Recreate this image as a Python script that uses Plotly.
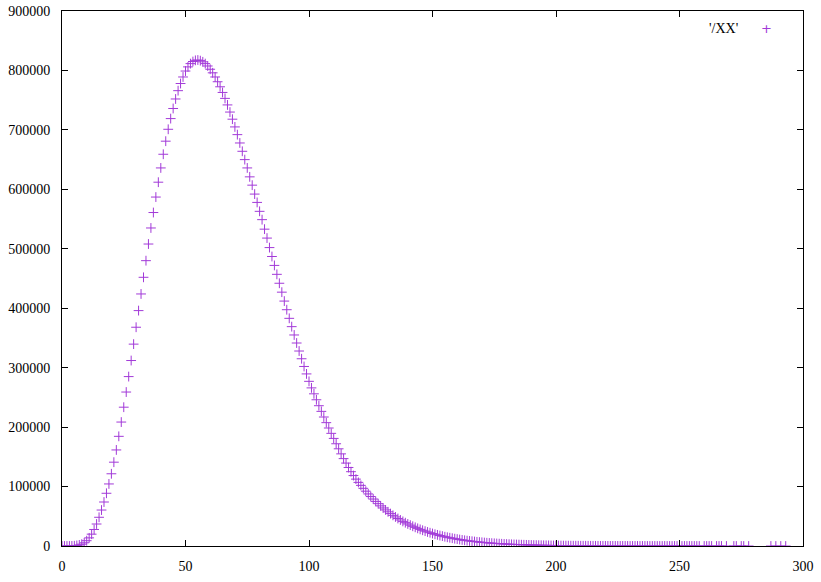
import plotly.graph_objects as go

# x positions (integer bins) and counts
x_dense = list(range(0, 259))
y_dense = [
    0, 0, 0, 40, 150, 400, 950, 1800, 3100, 5400,
    8900, 13700, 19900, 27800, 37000, 48300, 60500, 74000, 88700, 104400,
    121500, 141000, 161600, 184500, 208500, 233500, 259000, 285000, 312000, 339600,
    368000, 396000, 424000, 452000, 480000, 508000, 535000, 561000, 587000, 612000,
    636000, 659000, 681000, 701000, 719000, 736000, 752000, 766000, 778000, 789000,
    799000, 806000, 811500, 815000, 817000, 817500, 816500, 814500, 811500, 807500,
    802000, 796000, 789000, 781000, 772500, 763000, 753000, 742000, 730000, 718000,
    705000, 692000, 678000, 664000, 650000, 636000, 621000, 607000, 592000, 578000,
    563000, 549000, 533000, 518000, 502000, 487000, 472000, 457000, 442000, 427000,
    412000, 397500, 383000, 369000, 355000, 341500, 328000, 315000, 302000, 289500,
    277000, 266000, 256000, 246000, 236000, 226500, 217000, 207500, 198500, 189500,
    181000, 172000, 163500, 155000, 147000, 139500, 132000, 125000, 118500, 112500,
    107000, 102000, 97000, 92200, 87600, 83200, 79000, 75000, 71200, 67500,
    64000, 60700, 57500, 54500, 51600, 48900, 46300, 43800, 41400, 39200,
    37100, 35100, 33200, 31400, 29700, 28000, 26500, 25000, 23600, 22300,
    21000, 19800, 18700, 17600, 16600, 15600, 14700, 13900, 13100, 12300,
    11600, 10900, 10200, 9600, 9000, 8500, 8000, 7500, 7000, 6600,
    6200, 5800, 5450, 5100, 4800, 4500, 4200, 3950, 3700, 3450,
    3250, 3050, 2850, 2650, 2500, 2330, 2180, 2040, 1900, 1780,
    1660, 1550, 1450, 1350, 1260, 1180, 1100, 1020, 950, 890,
    830, 770, 720, 670, 620, 580, 540, 500, 465, 430,
    400, 370, 345, 320, 300, 280, 260, 240, 222, 206,
    190, 176, 163, 151, 140, 130, 120, 111, 103, 95,
    88, 81, 75, 69, 64, 59, 54, 50, 46, 42,
    39, 36, 33, 30, 28, 26, 24, 22, 20, 18,
    16, 15, 14, 12, 11, 10, 9, 8, 7,
]
x_tail = [260, 261, 262, 263, 265, 266, 267, 269, 272, 273, 275, 276, 278, 287, 289, 291, 293]
y_tail = [6, 5, 5, 4, 3, 3, 2, 2, 1, 1, 1, 1, 1, 1, 1, 1, 1]

x_vals = x_dense + x_tail
y_vals = y_dense + y_tail

legend_label = "'/XX'"
x_ticks = [0, 50, 100, 150, 200, 250, 300]
y_ticks = [0, 100000, 200000, 300000, 400000, 500000, 600000, 700000, 800000, 900000]

COLOR = "#a23ad8"
FONT = "Liberation Serif"

fig = go.Figure()
fig.add_trace(go.Scatter(
    x=x_vals, y=y_vals, mode="markers", name=legend_label,
    marker=dict(symbol="cross-thin", size=7, line=dict(color=COLOR, width=1), color=COLOR),
    showlegend=False,
))

axis_common = dict(
    showgrid=False, zeroline=False, showline=True, linecolor="black", linewidth=1,
    mirror="allticks", ticks="inside", ticklen=6, tickcolor="black", tickwidth=1,
    tickfont=dict(family=FONT, size=14, color="black"), automargin=False,
)
fig.update_xaxes(range=[0, 300], tickvals=x_ticks, ticktext=[str(v) for v in x_ticks],
                 ticklabelstandoff=7, **axis_common)
fig.update_yaxes(range=[0, 900000], tickvals=y_ticks, ticktext=[str(v) for v in y_ticks],
                 ticklabelstandoff=8, **axis_common)

fig.add_annotation(xref="paper", yref="paper", x=(740 - 62) / 741, y=(546 - 28) / 535,
                   xanchor="right", yanchor="middle", text=legend_label, showarrow=False,
                   font=dict(family=FONT, size=14, color="black"))
fig.add_annotation(xref="paper", yref="paper", x=(766 - 62) / 741, y=(546 - 28) / 535,
                   xanchor="center", yanchor="middle", text="+", showarrow=False,
                   font=dict(family="DejaVu Sans", size=13, color=COLOR))

fig.update_layout(
    width=821, height=582,
    margin=dict(l=62, r=18, t=11, b=36),
    paper_bgcolor="white", plot_bgcolor="white",
    font=dict(family=FONT, size=14, color="black"),
)

fig.write_html("out.html", config={"displayModeBar": False},
               post_script="document.body.style.margin='0';document.body.style.overflow='hidden';")
